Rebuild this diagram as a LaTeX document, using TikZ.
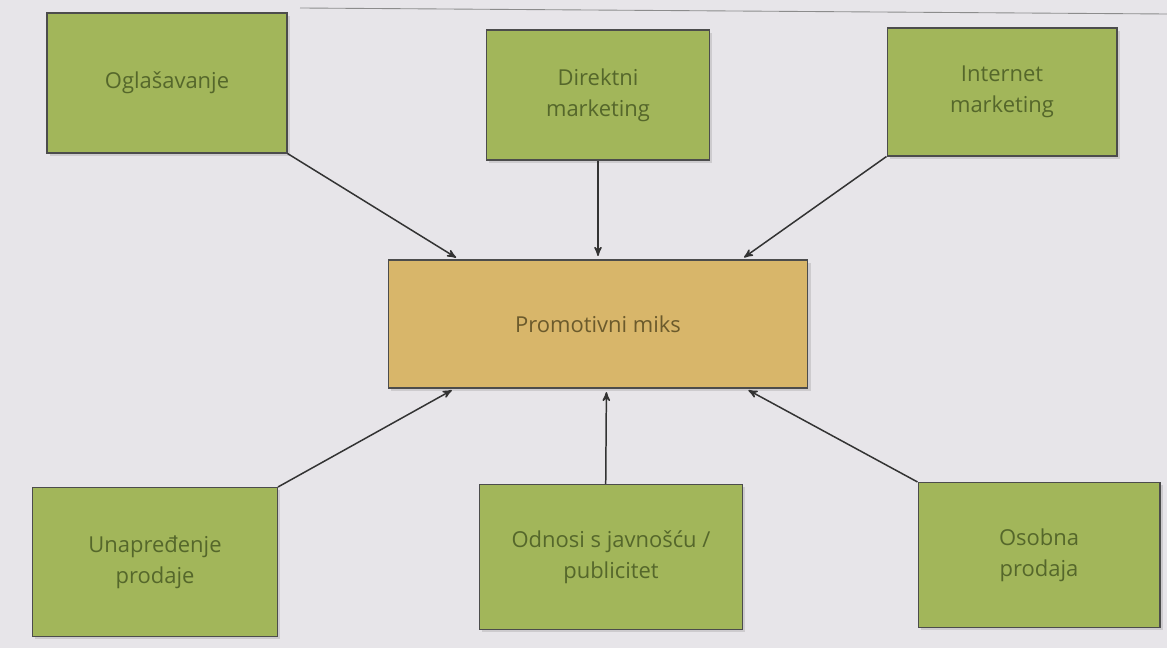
\documentclass[tikz,border=0pt]{standalone}
\usepackage{fontspec}
\setmainfont{Open Sans}
\usetikzlibrary{calc}
\usetikzlibrary{arrows}
\usetikzlibrary{shadows}
\definecolor{pagegray}{HTML}{E7E5E9}
\definecolor{boxgreen}{HTML}{A2B65A}
\definecolor{boxyellow}{HTML}{D8B66A}
\definecolor{textgreen}{HTML}{55672B}
\definecolor{textbrown}{HTML}{6B5A2C}
\tikzset{
 box/.style={draw=black!70, line width=0.6pt, align=center, inner sep=2pt,
   font=\fontsize{12.5}{17.6}\selectfont,
   drop shadow={opacity=0.25, shadow xshift=1.5pt, shadow yshift=-1.5pt}},
 greenbox/.style={box, fill=boxgreen, text=textgreen},
 miksbox/.style={box, fill=boxyellow, text=textbrown},
 arr/.style={black!80, line width=0.85pt, ->, >=stealth', shorten >=2pt}
}

\begin{document}
\begin{tikzpicture}[x=0.02cm, y=-0.02cm]
\fill[pagegray] (0,0) rectangle (1167,648);
\useasboundingbox (0,0) rectangle (1167,648);
\draw[black!45, line width=0.5pt] (300,8) -- (1167,14);
\node[miksbox, minimum width=8.4cm, minimum height=2.56cm] (miks) at (598,324) {Promotivni miks};
\node[greenbox, minimum width=4.8cm, minimum height=2.8cm] (ogl) at (167,83) {Oglašavanje};
\node[greenbox, minimum width=4.46cm, minimum height=2.6cm] (dir) at (598,95) {Direktni\\marketing};
\node[greenbox, minimum width=4.6cm, minimum height=2.56cm] (int) at (1002,92) {Internet\\marketing};
\node[greenbox, minimum width=4.9cm, minimum height=2.98cm] (unap) at (155,562) {Unapređenje\\prodaje};
\node[greenbox, minimum width=5.26cm, minimum height=2.9cm] (odn) at (611,557) {Odnosi s javnošću /\\publicitet};
\node[greenbox, minimum width=4.84cm, minimum height=2.9cm] (osob) at (1039,555) {Osobna\\prodaja};
\coordinate (inNW) at ($(miks.north west)!0.17!(miks.north east)$);
\coordinate (inNE) at ($(miks.north west)!0.84!(miks.north east)$);
\coordinate (inSW) at ($(miks.south west)!0.16!(miks.south east)$);
\coordinate (inSE) at ($(miks.south west)!0.85!(miks.south east)$);
\coordinate (inS) at ($(miks.south west)!0.52!(miks.south east)$);
\coordinate (odnTop) at ($(odn.north west)!0.48!(odn.north east)$);
\foreach \from/\to in {ogl.south east/inNW, dir.south/miks.north, int.south west/inNE,
  unap.north east/inSW, odnTop/inS, osob.north west/inSE}
 \draw[arr] (\from) -- (\to);
\end{tikzpicture}
\end{document}
